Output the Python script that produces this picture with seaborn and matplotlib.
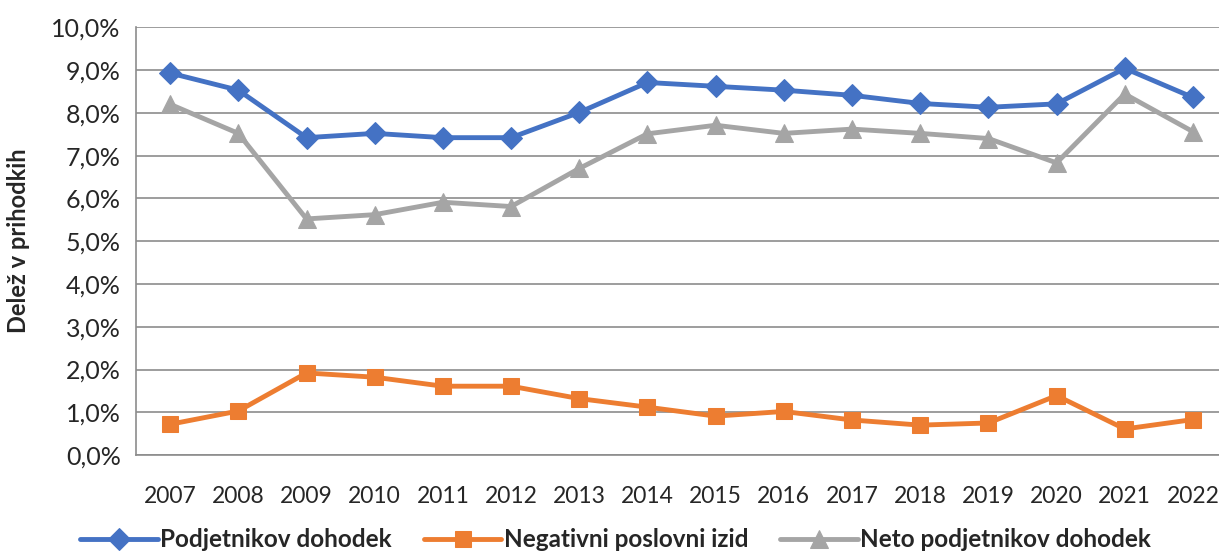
import seaborn as sns
import matplotlib.pyplot as plt
import pandas as pd
from matplotlib.ticker import FixedLocator, FuncFormatter

years = list(range(2007, 2023))
podjetnikov = [8.93, 8.53, 7.42, 7.52, 7.42, 7.42, 8.01, 8.71, 8.62, 8.53, 8.41, 8.22, 8.13, 8.21, 9.04, 8.36]
negativni = [0.72, 1.03, 1.92, 1.82, 1.61, 1.61, 1.32, 1.12, 0.91, 1.02, 0.82, 0.70, 0.75, 1.39, 0.61, 0.83]
neto = [8.20, 7.52, 5.52, 5.62, 5.91, 5.81, 6.70, 7.51, 7.71, 7.52, 7.62, 7.52, 7.40, 6.83, 8.44, 7.56]

names = ['Podjetnikov dohodek', 'Negativni poslovni izid', 'Neto podjetnikov dohodek']
colors = ['#4472C4', '#ED7D31', '#A5A5A5']
markers = ['D', 's', '^']
msizes = [11, 12, 13]

df = pd.DataFrame({'leto': years, names[0]: podjetnikov, names[1]: negativni, names[2]: neto})

sns.set_style('white')
plt.rcParams['font.family'] = ['Lato', 'DejaVu Sans']

fig = plt.figure(figsize=(12.19, 5.57), dpi=100)
ax = fig.add_axes([0.1116, 0.183, 0.895, 0.768])

for name, c, m, ms in zip(names, colors, markers, msizes):
    sns.lineplot(data=df, x='leto', y=name, ax=ax, color=c, marker=m, markersize=ms,
                 markeredgecolor=c, linewidth=3.5, label=name, legend=False)

ax.set_xlim(2006.5, 2022.5)
ax.set_ylim(0, 10)
ax.set_yticks([i for i in range(11)])
ax.yaxis.set_major_formatter(FuncFormatter(lambda v, p: f'{v:.1f}%'.replace('.', ',')))
ax.set_xticks(years)
ax.set_xticklabels([str(y) for y in years])
ax.xaxis.set_minor_locator(FixedLocator([y + 0.5 for y in range(2006, 2023)]))
ax.tick_params(axis='x', which='major', length=0, labelsize=16.5, pad=22)
ax.tick_params(axis='x', which='minor', length=6, color='#8c8c8c', width=1.2, direction='out')
ax.tick_params(axis='y', which='major', length=7, color='#8c8c8c', width=1.2, labelsize=18, pad=4, direction='out')
ax.grid(axis='y', color='#8c8c8c', linewidth=1.2)
ax.set_axisbelow(True)
for s in ['top', 'right']:
    ax.spines[s].set_visible(False)
for s in ['left', 'bottom']:
    ax.spines[s].set_color('#8c8c8c')
    ax.spines[s].set_linewidth(1.2)
ax.set_xlabel('')
ax.set_ylabel('Delež v prihodkih', fontsize=17, fontweight='bold')
ax.yaxis.set_label_coords(-0.097, 0.5)

handles, labels = ax.get_legend_handles_labels()
fig.legend(handles, labels, loc='lower center', bbox_to_anchor=(0.505, -0.029), ncol=3,
           frameon=False, prop={'size': 17.5, 'weight': 'bold'}, handlelength=3.2,
           handletextpad=0.1, columnspacing=1.3)

fig.savefig('out.png', dpi=100)
